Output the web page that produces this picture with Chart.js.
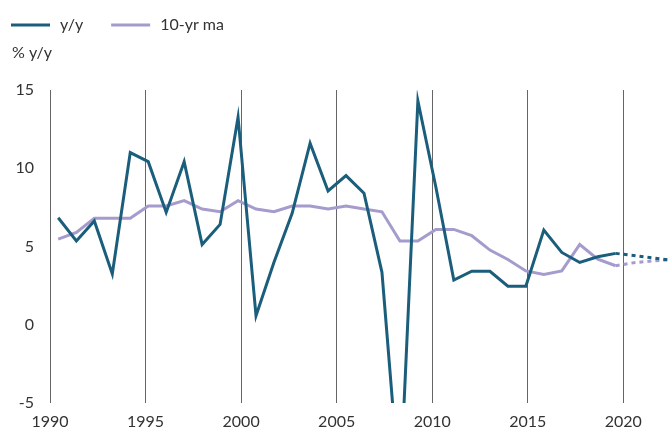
<!DOCTYPE html>
<html>
<head>
<meta charset="utf-8">
<script src="https://cdn.jsdelivr.net/npm/chart.js@4/dist/chart.umd.min.js"></script>
<style>
  html, body { margin: 0; padding: 0; background: #fff; }
  #wrap { width: 669px; height: 435px; position: relative; }
</style>
</head>
<body>
<div id="wrap"><canvas id="c" width="669" height="435"></canvas></div>
<script>
const periods = [1990.43, 1991.38, 1992.32, 1993.26, 1994.20, 1995.14, 1996.08, 1997.02, 1997.96, 1998.90,
                 1999.84, 2000.78, 2001.72, 2002.67, 2003.61, 2004.55, 2005.49, 2006.43, 2007.37, 2008.31,
                 2009.25, 2010.19, 2011.13, 2012.07, 2013.02, 2013.96, 2014.90, 2015.84, 2016.78, 2017.72,
                 2018.66, 2019.60, 2020.54, 2021.48, 2022.43];
// y/y growth, % (last three are projections, drawn dotted)
const yoy = [6.84, 5.35, 6.63, 3.25, 11.0, 10.42, 7.18, 10.42, 5.13, 6.41,
             13.26, 0.57, 4.0, 7.12, 11.6, 8.55, 9.53, 8.4, 3.35, -10.8,
             14.3, 8.8, 2.85, 3.42, 3.42, 2.46, 2.46, 6.05, 4.62, 3.98,
             4.34, 4.56, 4.42, 4.28, 4.13];
// 10-year moving average, %
const ma10 = [5.47, 5.9, 6.8, 6.8, 6.8, 7.59, 7.59, 7.93, 7.39, 7.22,
              7.93, 7.39, 7.22, 7.59, 7.59, 7.39, 7.59, 7.39, 7.22, 5.35,
              5.35, 6.09, 6.09, 5.69, 4.77, 4.17, 3.44, 3.21, 3.44, 5.13,
              4.19, 3.77, 3.96, 4.07, 4.16];
const firstProjected = 31; // segments starting at this index are projections
const seriesNames = ['y/y', '10-yr ma'];
const xTickYears = [1990, 1995, 2000, 2005, 2010, 2015, 2020];
const yTicks = [-5, 0, 5, 10, 15];
const unitLabel = '% y/y';

const FONT = 'Lato, "Open Sans", "DejaVu Sans", sans-serif';
const TEXT = '#333333';
const COLORS = ['#1b5e7c', '#a59bcd'];

const toXY = vals => vals.map((v, i) => ({ x: periods[i], y: v }));
const dashAfter = ctx => ctx.p0DataIndex >= firstProjected ? [4, 4] : undefined;

const legendPlugin = {
  id: 'topLegend',
  afterDraw(chart) {
    const ctx = chart.ctx;
    ctx.save();
    ctx.font = '16px ' + FONT;
    ctx.fillStyle = TEXT;
    ctx.textBaseline = 'middle';
    let x = 11;
    const y = 25;
    chart.data.datasets.forEach(ds => {
      ctx.strokeStyle = ds.borderColor;
      ctx.lineWidth = 3;
      ctx.beginPath();
      ctx.moveTo(x, y);
      ctx.lineTo(x + 39, y);
      ctx.stroke();
      ctx.fillText(ds.label, x + 49, y);
      x = x + 49 + ctx.measureText(ds.label).width + 28;
    });
    ctx.fillText(unitLabel, 12, 53);
    ctx.restore();
  }
};

new Chart(document.getElementById('c'), {
  type: 'line',
  data: {
    datasets: [
      { label: seriesNames[0], data: toXY(yoy), borderColor: COLORS[0], backgroundColor: COLORS[0],
        borderWidth: 3, pointRadius: 0, tension: 0, segment: { borderDash: dashAfter } },
      { label: seriesNames[1], data: toXY(ma10), borderColor: COLORS[1], backgroundColor: COLORS[1],
        borderWidth: 3, pointRadius: 0, tension: 0, segment: { borderDash: dashAfter } }
    ]
  },
  options: {
    responsive: false,
    animation: false,
    devicePixelRatio: 1,
    layout: { padding: { top: 90, left: 0, right: 0, bottom: 0 } },
    plugins: { legend: { display: false }, tooltip: { enabled: false } },
    scales: {
      x: {
        type: 'linear',
        min: 1990,
        max: 2022.39,
        afterBuildTicks: s => { s.ticks = xTickYears.map(v => ({ value: v })); },
        afterFit: s => { s.height = 32; },
        ticks: { includeBounds: false, padding: 9, color: TEXT, font: { family: FONT, size: 16 },
                 callback: v => String(v), maxRotation: 0, autoSkip: false },
        grid: { color: '#666666', lineWidth: 1, drawTicks: false },
        border: { display: false }
      },
      y: {
        min: -5,
        max: 15,
        afterBuildTicks: s => { s.ticks = yTicks.map(v => ({ value: v })); },
        afterFit: s => { s.width = 50; },
        ticks: { padding: 16, color: TEXT, font: { family: FONT, size: 16 } },
        grid: { display: false, drawTicks: false },
        border: { display: false }
      }
    }
  },
  plugins: [legendPlugin]
});
</script>
</body>
</html>
